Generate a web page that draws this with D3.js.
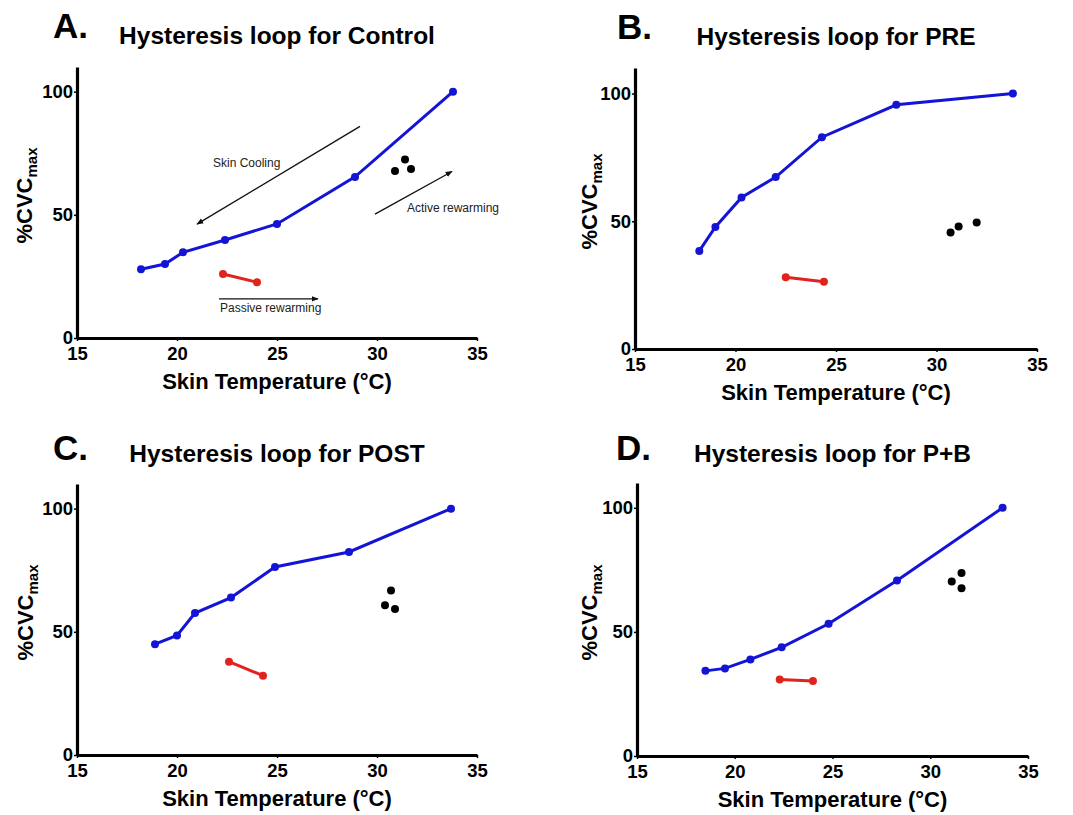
<!DOCTYPE html>
<html>
<head>
<meta charset="utf-8">
<script src="https://cdn.jsdelivr.net/npm/d3@7"></script>
<style>
  body { margin: 0; background: #fff; }
  svg { font-family: "Liberation Sans", Arial, sans-serif; }
</style>
</head>
<body>
<div id="chart"></div>
<script>
// panels A-D
const panelLetters = ["A.", "B.", "C.", "D."];
const panelTitles = [
  "Hysteresis loop for Control",
  "Hysteresis loop for PRE",
  "Hysteresis loop for POST",
  "Hysteresis loop for P+B"
];

// skin cooling (blue line)
const coolingTemp = [
  [18.2, 19.4, 20.3, 22.4, 25.0, 28.9, 33.8],
  [18.2, 19.0, 20.3, 22.0, 24.3, 28.0, 33.8],
  [18.9, 20.0, 20.9, 22.7, 24.9, 28.6, 33.7],
  [18.5, 19.5, 20.8, 22.4, 24.8, 28.3, 33.7]
];
const coolingCVC = [
  [27.9, 30.0, 34.8, 39.8, 46.3, 65.4, 100],
  [38.4, 47.8, 59.3, 67.3, 82.9, 95.6, 100],
  [45.0, 48.5, 57.6, 63.9, 76.3, 82.4, 100],
  [34.3, 35.3, 38.9, 43.8, 53.3, 70.7, 100]
];

// passive rewarming (red line)
const passiveTemp = [
  [22.3, 24.0],
  [22.5, 24.4],
  [22.6, 24.3],
  [22.3, 24.0]
];
const passiveCVC = [
  [26.0, 22.6],
  [28.1, 26.3],
  [37.9, 32.2],
  [30.8, 30.2]
];

// active rewarming (black dots)
const activeTemp = [
  [30.9, 31.4, 31.7],
  [30.7, 31.1, 32.0],
  [30.7, 30.4, 30.9],
  [31.1, 31.6, 31.6]
];
const activeCVC = [
  [67.8, 72.5, 68.6],
  [45.6, 48.0, 49.5],
  [66.8, 60.8, 59.3],
  [70.3, 73.7, 67.6]
];

const xTicks = [15, 20, 25, 30, 35];
const yTicks = [0, 50, 100];

// annotations on panel A (data coordinates)
const arrowLabels = ["Skin Cooling", "Active rewarming", "Passive rewarming"];
const arrowFrom = [[29.15, 85.9], [29.9, 50.3], [22.1, 15.9]];
const arrowTo = [[21.0, 46.2], [33.75, 67.6], [27.05, 15.9]];
const labelAt = [[21.8, 69.5], [31.5, 51.2], [22.15, 10.6]];

const width = 1073, height = 815;
const layout = [
  { left: 77, right: 477, top: 67, bottom: 338, yLab: -45, letterX: 53, letterY: 38, titleY: 44 },
  { left: 635, right: 1037, top: 68, bottom: 349, yLab: -38, letterX: 617, letterY: 39, titleY: 45 },
  { left: 77, right: 477, top: 484, bottom: 755, yLab: -44, letterX: 53, letterY: 460, titleY: 462 },
  { left: 637, right: 1028, top: 483, bottom: 756, yLab: -40, letterX: 616, letterY: 460, titleY: 462 }
];

const blue = "#1414d6", red = "#e2231d";

const svg = d3.select("#chart").append("svg")
  .attr("width", width)
  .attr("height", height);

const defs = svg.append("defs");
defs.append("marker")
  .attr("id", "head")
  .attr("viewBox", "0 0 10 10")
  .attr("refX", 9).attr("refY", 5)
  .attr("markerWidth", 7).attr("markerHeight", 7)
  .attr("markerUnits", "userSpaceOnUse")
  .attr("orient", "auto")
  .append("path")
  .attr("d", "M0,1 L10,5 L0,9 Z")
  .attr("fill", "#111");

layout.forEach((L, i) => {
  const x = d3.scaleLinear().domain([15, 35]).range([L.left, L.right]);
  const y = d3.scaleLinear().domain([0, 110]).range([L.bottom, L.top]);
  const g = svg.append("g");

  // axes
  const xAxis = g.append("g")
    .attr("transform", `translate(0,${L.bottom})`)
    .call(d3.axisBottom(x).tickValues(xTicks).tickSize(3).tickPadding(6).tickSizeOuter(0));
  const yAxis = g.append("g")
    .attr("transform", `translate(${L.left},0)`)
    .call(d3.axisLeft(y).tickValues(yTicks).tickSize(3).tickPadding(1).tickSizeOuter(0));
  [xAxis, yAxis].forEach(a => {
    a.select(".domain").attr("stroke", "#000").attr("stroke-width", 3.2);
    a.selectAll(".tick line").attr("stroke", "#000").attr("stroke-width", 1.5);
    a.selectAll(".tick text")
      .attr("fill", "#000")
      .style("font-size", "18.5px")
      .style("font-weight", "bold");
  });

  // titles
  g.append("text")
    .attr("x", L.letterX).attr("y", L.letterY)
    .style("font-size", "35px").style("font-weight", "bold")
    .text(panelLetters[i]);
  g.append("text")
    .attr("x", (L.left + L.right) / 2).attr("y", L.titleY)
    .attr("text-anchor", "middle")
    .style("font-size", "24.5px").style("font-weight", "bold")
    .text(panelTitles[i]);

  // axis labels
  g.append("text")
    .attr("x", (L.left + L.right) / 2).attr("y", L.bottom + 51)
    .attr("text-anchor", "middle")
    .style("font-size", "22px").style("font-weight", "bold")
    .text("Skin Temperature (\u00B0C)");
  const yl = g.append("text")
    .attr("transform", `translate(${L.left + L.yLab},${(L.top + L.bottom) / 2 - 7}) rotate(-90)`)
    .attr("text-anchor", "middle")
    .style("font-size", "22px").style("font-weight", "bold");
  yl.append("tspan").text("%CVC");
  yl.append("tspan").attr("dy", 5).style("font-size", "15px").text("max");

  const line = d3.line().x(d => x(d[0])).y(d => y(d[1]));

  // skin cooling
  const cool = d3.zip(coolingTemp[i], coolingCVC[i]);
  g.append("path").datum(cool)
    .attr("d", line).attr("fill", "none")
    .attr("stroke", blue).attr("stroke-width", 3);
  g.selectAll(".cool").data(cool).enter().append("circle")
    .attr("cx", d => x(d[0])).attr("cy", d => y(d[1])).attr("r", 4)
    .attr("fill", blue);

  // passive rewarming
  const pass = d3.zip(passiveTemp[i], passiveCVC[i]);
  g.append("path").datum(pass)
    .attr("d", line).attr("fill", "none")
    .attr("stroke", red).attr("stroke-width", 3);
  g.selectAll(".pass").data(pass).enter().append("circle")
    .attr("cx", d => x(d[0])).attr("cy", d => y(d[1])).attr("r", 4)
    .attr("fill", red);

  // active rewarming
  const act = d3.zip(activeTemp[i], activeCVC[i]);
  g.selectAll(".act").data(act).enter().append("circle")
    .attr("cx", d => x(d[0])).attr("cy", d => y(d[1])).attr("r", 4)
    .attr("fill", "#000");

  // annotations only on panel A
  if (i === 0) {
    arrowLabels.forEach((lab, k) => {
      g.append("line")
        .attr("x1", x(arrowFrom[k][0])).attr("y1", y(arrowFrom[k][1]))
        .attr("x2", x(arrowTo[k][0])).attr("y2", y(arrowTo[k][1]))
        .attr("stroke", "#111").attr("stroke-width", 1.3)
        .attr("marker-end", "url(#head)");
      g.append("text")
        .attr("x", x(labelAt[k][0])).attr("y", y(labelAt[k][1]))
        .attr("fill", "#222")
        .style("font-size", "12px")
        .text(lab);
    });
  }
});
</script>
</body>
</html>
